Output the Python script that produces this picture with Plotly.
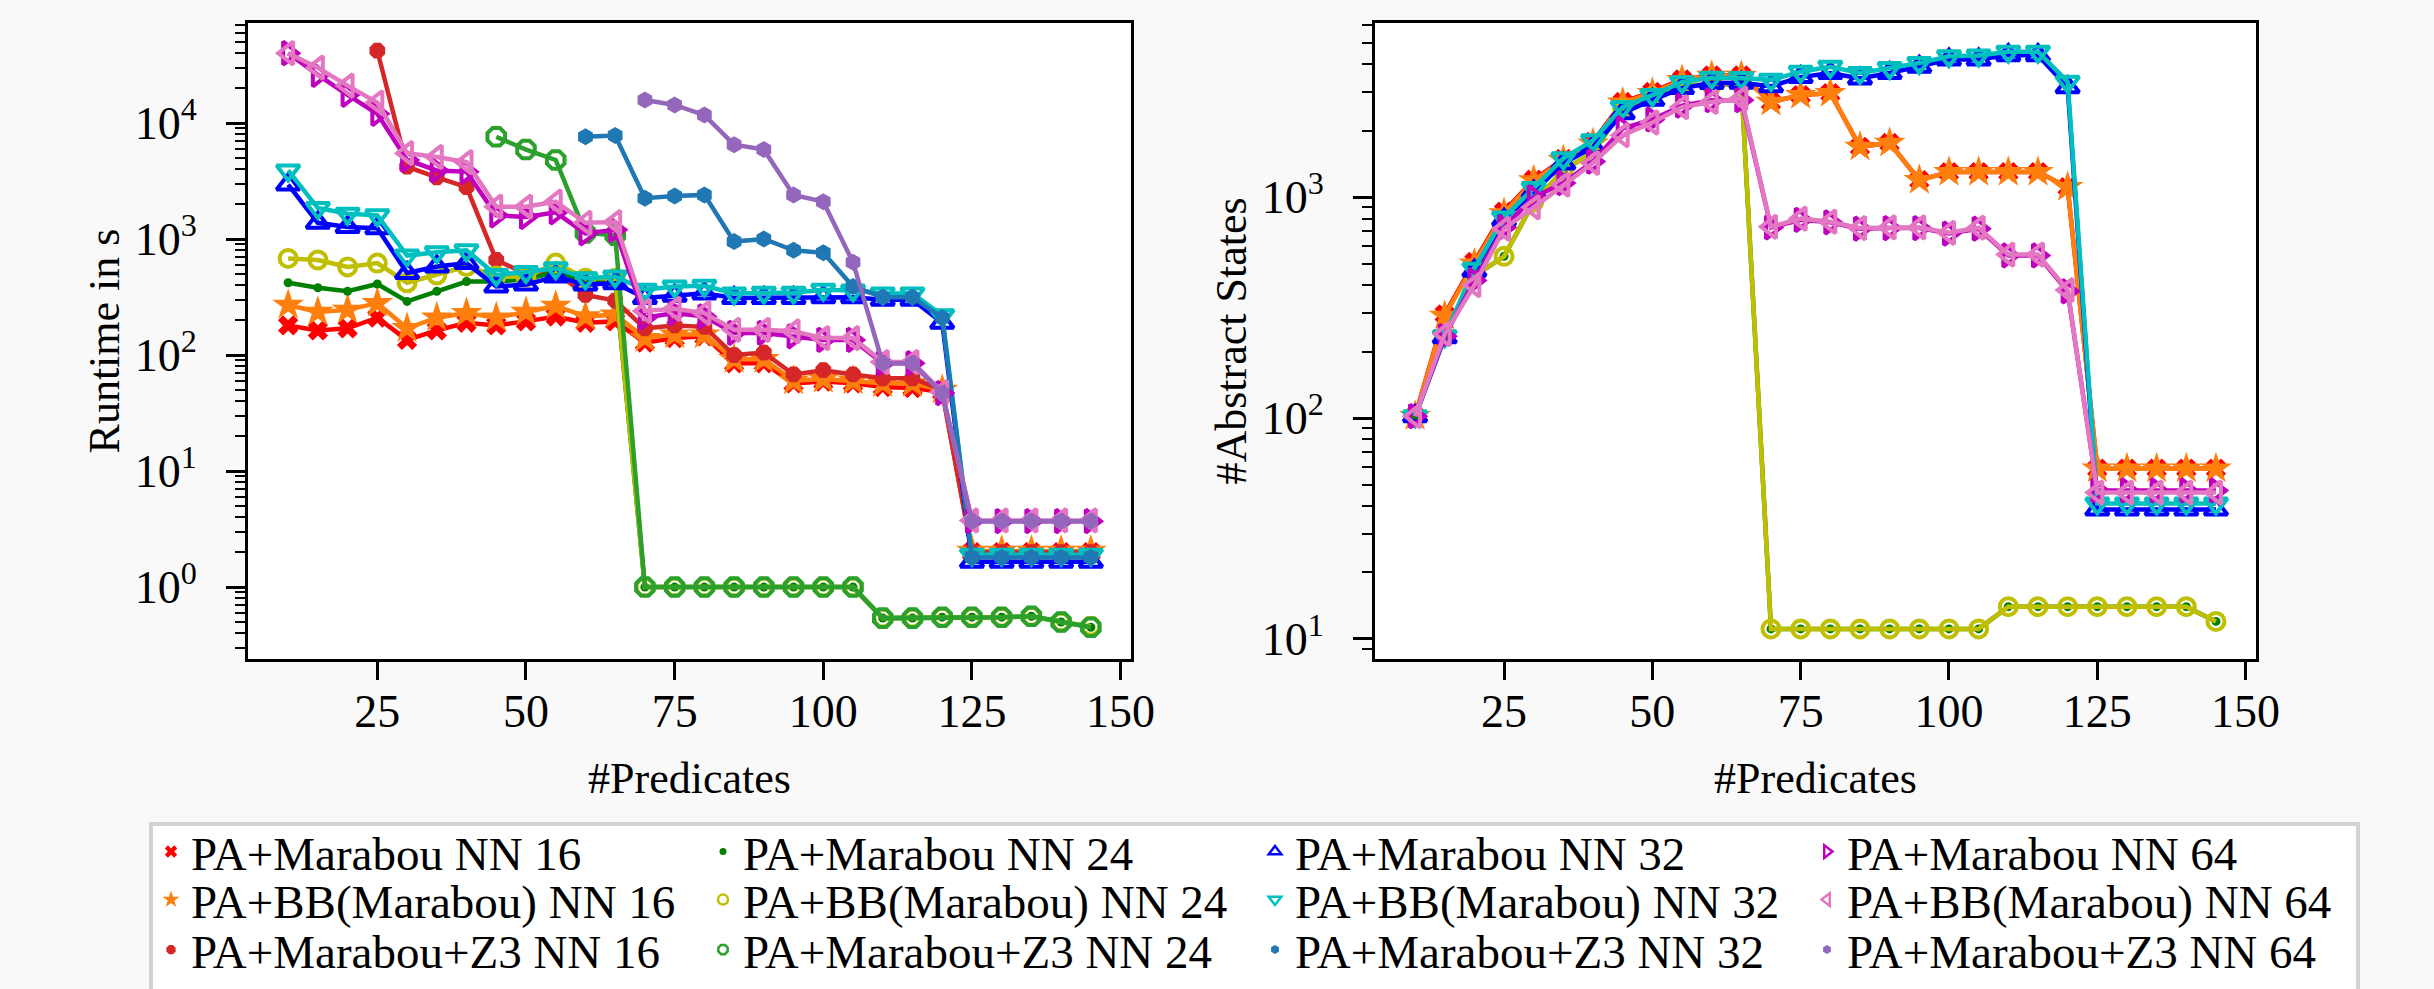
import plotly.graph_objects as go

# ---------------- data ----------------
predicates = [10, 15, 20, 25, 30, 35, 40, 45, 50, 55, 60, 65, 70, 75,
              80, 85, 90, 95, 100, 105, 110, 115, 120, 125, 130, 135, 140, 145]

series_names = [
    "PA+Marabou NN 16", "PA+BB(Marabou) NN 16", "PA+Marabou+Z3 NN 16",
    "PA+Marabou NN 24", "PA+BB(Marabou) NN 24", "PA+Marabou+Z3 NN 24",
    "PA+Marabou NN 32", "PA+BB(Marabou) NN 32", "PA+Marabou+Z3 NN 32",
    "PA+Marabou NN 64", "PA+BB(Marabou) NN 64", "PA+Marabou+Z3 NN 64",
]

# Runtime in s (left panel)
rt_m16 = [180, 163, 170, 210, 135, 163, 190, 180, 195, 215, 190, 195, 128, 140,
          145, 85, 85, 57, 59, 57, 53, 52, 48, 2.0, 2.0, 2.0, 2.0, 2.0]
rt_bb16 = [270, 235, 245, 280, 170, 210, 230, 210, 235, 265, 215, 223, 140, 150,
           150, 92, 92, 60, 62, 60, 57, 57, 50, 2.05, 2.05, 2.05, 2.05, 2.05]
rt_z3_16 = [None, None, None, 42000, 4200, 3400, 2800, 660, 500, 520, 330, 295, 170, 180,
            175, 100, 105, 68, 74, 68, 63, 63, 50, 2.0, 2.0, 2.0, 2.0, 2.0]
rt_m24 = [420, 380, 355, 410, 290, 355, 430, 430, 450, 520, 440, 440, 1.0, 1.0,
          1.0, 1.0, 1.0, 1.0, 1.0, 1.0, 0.54, 0.54, 0.55, 0.55, 0.55, 0.56, 0.50, 0.45]
rt_bb24 = [680, 660, 575, 620, 420, 490, 580, 480, 470, 620, 460, 460, 1.0, 1.0,
           1.0, 1.0, 1.0, 1.0, 1.0, 1.0, 0.54, 0.54, 0.55, 0.55, 0.55, 0.56, 0.50, 0.46]
rt_z3_24 = [None, None, None, None, None, None, None, 7600, 5900, 4800, 1130, 1080, 1.0, 1.0,
            1.0, 1.0, 1.0, 1.0, 1.0, 1.0, 0.54, 0.54, 0.55, 0.55, 0.55, 0.56, 0.50, 0.45]
rt_m32 = [2950, 1380, 1270, 1240, 510, 580, 620, 390, 405, 475, 405, 415, 310, 325,
          340, 310, 310, 310, 315, 315, 300, 300, 190, 1.65, 1.65, 1.65, 1.65, 1.65]
rt_bb32 = [3900, 1850, 1650, 1600, 720, 770, 800, 490, 520, 560, 460, 475, 365, 390,
           395, 340, 345, 345, 365, 360, 340, 340, 220, 1.9, 1.9, 1.9, 1.9, 1.9]
rt_z3_32 = [None, None, None, None, None, None, None, None, None, None, 7600, 7800, 2250, 2350,
            2400, 950, 1000, 800, 760, 390, 315, 315, 210, 1.8, 1.8, 1.8, 1.8, 1.8]
rt_m64 = [40000, 26000, 17500, 12000, 4800, 3900, 3800, 1600, 1550, 1700, 1120, 1200, 210, 230,
          215, 155, 155, 145, 135, 135, 85, 85, 47, 3.7, 3.7, 3.7, 3.7, 3.7]
rt_bb64 = [40000, 30000, 21000, 15000, 5500, 5100, 4600, 1900, 1900, 2100, 1380, 1400, 240, 250,
           230, 165, 165, 160, 140, 140, 87, 87, 48, 3.75, 3.75, 3.75, 3.75, 3.75]
rt_z3_64 = [None, None, None, None, None, None, None, None, None, None, None, None, 15800, 14300,
            11700, 6500, 5900, 2400, 2100, 630, 85, 85, 47, 3.7, 3.7, 3.7, 3.7, 3.7]

# #Abstract States (right panel)
as_m16 = [102, 295, 510, 860, 1200, 1490, 1780, 2700, 3000, 3420, 3560, 3560, 2700, 2900,
          2960, 1690, 1760, 1195, 1300, 1300, 1300, 1300, 1110, 59, 59, 59, 59, 59]
as_bb16 = [102, 290, 500, 845, 1190, 1470, 1750, 2680, 2960, 3390, 3540, 3540, 2700, 2900,
           2960, 1690, 1760, 1195, 1300, 1300, 1300, 1300, 1110, 59, 59, 59, 59, 59]
as_m24 = [102, 235, 440, 540, 950, 1320, 1600, 2500, 2850, 3220, 3220, 3250, 11.1, 11.1,
          11.1, 11.1, 11.1, 11.1, 11.1, 11.1, 14, 14, 14, 14, 14, 14, 14, 12]
as_bb24 = [102, 235, 440, 540, 950, 1320, 1600, 2500, 2850, 3220, 3220, 3250, 11.1, 11.1,
           11.1, 11.1, 11.1, 11.1, 11.1, 11.1, 14, 14, 14, 14, 14, 14, 14, 12]
as_m32 = [102, 232, 465, 790, 1060, 1420, 1690, 2400, 2760, 3120, 3290, 3300, 3180, 3500,
          3650, 3450, 3650, 3900, 4200, 4200, 4400, 4400, 3150, 38.5, 38.5, 38.5, 38.5, 38.5]
as_bb32 = [102, 235, 475, 810, 1100, 1500, 1810, 2560, 2900, 3320, 3480, 3470, 3400, 3700,
           3900, 3650, 3850, 4050, 4350, 4380, 4560, 4560, 3330, 41, 41, 41, 41, 41]
as_m64 = [102, 235, 420, 730, 1000, 1160, 1450, 2050, 2250, 2600, 2750, 2750, 730, 790,
          770, 720, 725, 725, 685, 720, 545, 545, 375, 47, 47, 47, 47, 47]
as_bb64 = [102, 240, 400, 720, 900, 1140, 1430, 1910, 2180, 2560, 2700, 2800, 735, 800,
           775, 725, 730, 730, 690, 728, 550, 550, 380, 46, 46, 46, 46, 46]

x_ticks = [25, 50, 75, 100, 125, 150]
rt_ticks = [1, 10, 100, 1000, 10000]
rt_ticktext = ["10<sup>0</sup>", "10<sup>1</sup>", "10<sup>2</sup>", "10<sup>3</sup>", "10<sup>4</sup>"]
as_ticks = [10, 100, 1000]
as_ticktext = ["10<sup>1</sup>", "10<sup>2</sup>", "10<sup>3</sup>"]

x_title = "#Predicates"
rt_title = "Runtime in s"
as_title = "#Abstract States"

runtime = [rt_m16, rt_bb16, rt_z3_16, rt_m24, rt_bb24, rt_z3_24,
           rt_m32, rt_bb32, rt_z3_32, rt_m64, rt_bb64, rt_z3_64]
states = {0: as_m16, 1: as_bb16, 3: as_m24, 4: as_bb24,
          6: as_m32, 7: as_bb32, 9: as_m64, 10: as_bb64}

# ---------------- styles ----------------
colors = ["#ff0000", "#ff7f0e", "#d62728",
          "#008000", "#bfbf00", "#2ca02c",
          "#0000ff", "#00bfbf", "#1f77b4",
          "#bf00bf", "#e377c2", "#9467bd"]
symbols = ["x", "star", "octagon",
           "circle", "circle-open", "octagon-open",
           "triangle-up-open", "triangle-down-open", "hexagon",
           "triangle-right-open", "triangle-left-open", "hexagon"]
msizes = [18, 24, 17, 9, 17, 19, 20, 20, 17, 20, 20, 17]
leg_sizes = [11, 13, 10, 7, 10, 10, 11, 11, 9, 11, 11, 9]

FONT = "Liberation Serif"


def styled(txt):
    # put the serif family directly on the text span as well
    return "<span style='font-family:Liberation Serif'>" + txt + "</span>"


def minor_vals(lo_exp, hi_exp):
    out = []
    for e in range(lo_exp, hi_exp + 1):
        for m in range(2, 10):
            out.append(m * 10 ** e)
    return out


def marker_for(i, size):
    open_sym = symbols[i].endswith("open")
    return dict(symbol=symbols[i], size=size, color=colors[i],
                line=dict(width=4 if open_sym else 0, color=colors[i]))


fig = go.Figure()

for i, name in enumerate(series_names):
    fig.add_trace(go.Scatter(
        x=predicates, y=runtime[i], mode="lines+markers", name=name,
        line=dict(color=colors[i], width=4.5), marker=marker_for(i, msizes[i]),
        showlegend=False, xaxis="x", yaxis="y"))

for i, name in enumerate(series_names):
    if i not in states:
        continue
    fig.add_trace(go.Scatter(
        x=predicates, y=states[i], mode="lines+markers", name=name,
        line=dict(color=colors[i], width=4.5), marker=marker_for(i, msizes[i]),
        showlegend=False, xaxis="x2", yaxis="y2"))

# legend-only proxies (marker only, matplotlib style), 4 columns x 3 rows
legend_ids = ["legend", "legend2", "legend3"]
for i, name in enumerate(series_names):
    row = i % 3
    col = i // 3
    lm = marker_for(i, leg_sizes[i])
    if symbols[i].endswith("open"):
        lm["line"]["width"] = 2.5
    fig.add_trace(go.Scatter(
        x=[None], y=[None], mode="markers", name=name, marker=lm,
        legend=legend_ids[row], legendrank=col + 1,
        xaxis="x", yaxis="y", showlegend=True))

W, H = 2434, 989
ML, MR, MT, MB = 248, 178, 23, 330
PW, PH = W - ML - MR, H - MT - MB


def px_x(px):
    return (px - ML) / PW


def px_y(py):
    return (H - MB - py) / PH


axis_common = dict(
    showline=True, linewidth=3, linecolor="black", mirror=True,
    ticks="outside", tickwidth=3, tickcolor="black", showgrid=False, zeroline=False,
    tickfont=dict(family=FONT, size=46, color="black"),
)
title_font = dict(family=FONT, size=44, color="black")

fig.update_layout(
    width=W, height=H,
    margin=dict(l=ML, r=MR, t=MT, b=MB, autoexpand=False),
    paper_bgcolor="#f9f9f9", plot_bgcolor="white",
    xaxis=dict(domain=[0, px_x(1131)], range=[3.25, 151.75], tickmode="array",
               tickvals=x_ticks, ticklen=18, ticklabelstandoff=-8,
               title=dict(text=styled(x_title), font=title_font, standoff=26),
               anchor="y", **axis_common),
    yaxis=dict(domain=[0, 1], type="log", range=[-0.62, 4.862], tickmode="array",
               tickvals=rt_ticks, ticktext=rt_ticktext, ticklen=19, ticklabelstandoff=20,
               minor=dict(tickmode="array", tickvals=minor_vals(-1, 4), ticklen=10,
                          tickwidth=2.2, tickcolor="black", ticks="outside", showgrid=False),
               title=dict(text=rt_title, font=title_font, standoff=2),
               anchor="x", **axis_common),
    xaxis2=dict(domain=[px_x(1375), 1], range=[3.25, 151.75], tickmode="array",
                tickvals=x_ticks, ticklen=18, ticklabelstandoff=-8,
                title=dict(text=styled(x_title), font=title_font, standoff=26),
                anchor="y2", **axis_common),
    yaxis2=dict(domain=[0, 1], type="log", range=[0.909, 3.789], tickmode="array",
                tickvals=as_ticks, ticktext=as_ticktext, ticklen=19, ticklabelstandoff=20,
                minor=dict(tickmode="array", tickvals=minor_vals(0, 3), ticklen=10,
                           tickwidth=2.2, tickcolor="black", ticks="outside", showgrid=False),
                title=dict(text=styled(as_title), font=title_font, standoff=2),
                anchor="x2", **axis_common),
)

row_centers = [852, 900, 950]
for lid, yc in zip(legend_ids, row_centers):
    fig.update_layout({lid: dict(
        orientation="h", x=px_x(151), xanchor="left", y=px_y(yc), yanchor="middle",
        bgcolor="rgba(0,0,0,0)", borderwidth=0, entrywidth=507, entrywidthmode="pixels",
        itemsizing="trace", font=dict(family=FONT, size=47, color="black"),
        tracegroupgap=0, itemclick=False, itemdoubleclick=False)})

# legend frame (matplotlib style box)
fig.add_shape(type="rect", xref="paper", yref="paper",
              x0=px_x(151), x1=px_x(2358), y0=px_y(1010), y1=px_y(824),
              line=dict(color="#d3d3d3", width=4), fillcolor="white", layer="below")

fig.write_html(
    "out.html",
    config={"displayModeBar": False},
    post_script="document.body.style.margin='0';"
                "document.body.style.backgroundColor='#f9f9f9';"
                "document.documentElement.style.overflow='hidden';")
